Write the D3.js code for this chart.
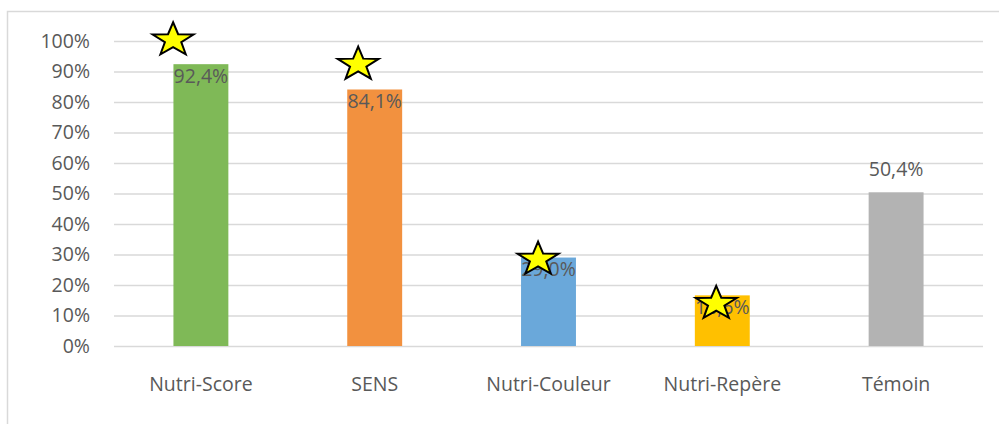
<!DOCTYPE html>
<html>
<head>
<meta charset="utf-8">
<script src="https://cdn.jsdelivr.net/npm/d3@7/dist/d3.min.js"></script>
<style>
body { margin: 0; overflow: hidden; background: #fff; }
text { font-family: "Open Sans", sans-serif; fill: #595959; }
</style>
</head>
<body>
<svg width="999" height="424"></svg>
<script>
// data
const categories = ['Nutri-Score', 'SENS', 'Nutri-Couleur', 'Nutri-Repère', 'Témoin'];
const values = [92.4, 84.1, 29.0, 16.6, 50.4];
const colors = ['#7fb957', '#f2913f', '#6aa8da', '#ffc000', '#b3b3b3'];
const labelInside = [true, true, true, true, false];
const yTicks = [0, 10, 20, 30, 40, 50, 60, 70, 80, 90, 100];
// star annotations: category, value at star centre, offset within band
const starCats = ['Nutri-Score', 'SENS', 'Nutri-Couleur', 'Nutri-Repère'];
const starValues = [100.8, 92.8, 28.9, 14.4];
const starShift = [-0.16, -0.095, -0.06, -0.035];

const svg = d3.select('svg');
const margin = { top: 41, left: 114, right: 16, bottom: 78 };
const width = 999, height = 424;
const innerW = width - margin.left - margin.right;
const innerH = height - margin.top - margin.bottom;
const fs = '19.5px';

// chart frame
svg.append('rect')
  .attr('x', 7.5).attr('y', 11.5)
  .attr('width', 1000).attr('height', 500)
  .attr('fill', 'none').attr('stroke', '#d9d9d9').attr('stroke-width', 1.5);

const g = svg.append('g').attr('transform', `translate(${margin.left},${margin.top})`);

const x = d3.scaleBand().domain(categories).range([0, innerW]).paddingInner(0.684).paddingOuter(0.342);
const y = d3.scaleLinear().domain([0, 100]).range([innerH, 0]);

const yAxis = g.append('g')
  .call(d3.axisLeft(y).tickValues(yTicks).tickSize(-innerW).tickPadding(24).tickFormat(d => d + '%'));
yAxis.select('.domain').remove();
yAxis.selectAll('.tick line').attr('stroke', '#d9d9d9').attr('stroke-width', 1.5);
yAxis.selectAll('.tick text').style('font-size', fs).attr('fill', '#595959');

const xAxis = g.append('g').attr('transform', `translate(0,${innerH})`)
  .call(d3.axisBottom(x).tickSize(0).tickPadding(31));
xAxis.select('.domain').remove();
xAxis.selectAll('.tick text').style('font-size', fs).attr('fill', '#595959');

const rows = categories.map((c, i) => ({ c, v: values[i], col: colors[i], inside: labelInside[i] }));

g.selectAll('rect.bar').data(rows).enter().append('rect')
  .attr('class', 'bar')
  .attr('x', d => x(d.c))
  .attr('y', d => y(d.v))
  .attr('width', x.bandwidth())
  .attr('height', d => innerH - y(d.v))
  .attr('fill', d => d.col);

g.selectAll('text.val').data(rows).enter().append('text')
  .attr('class', 'val')
  .attr('x', d => x(d.c) + x.bandwidth() / 2)
  .attr('y', d => d.inside ? y(d.v) + 12 : y(d.v) - 23)
  .attr('dy', '0.35em')
  .attr('text-anchor', 'middle')
  .style('font-size', fs)
  .attr('fill', '#404040')
  .text(d => d3.format('.1f')(d.v).replace('.', ',') + '%');

// stars sit on top of the labels
const starPath = (() => {
  const pts = [];
  for (let k = 0; k < 10; k++) {
    const r = k % 2 === 0 ? 1 : 0.4;
    const a = -Math.PI / 2 + k * Math.PI / 5;
    pts.push([r * Math.cos(a) * 21.5, r * Math.sin(a) * 17.7 + 1.4]);
  }
  return 'M' + pts.map(p => p.join(',')).join('L') + 'Z';
})();

const stars = starCats.map((c, i) => ({ c, v: starValues[i], s: starShift[i] }));

g.selectAll('path.star').data(stars).enter().append('path')
  .attr('class', 'star')
  .attr('transform', d => `translate(${x(d.c) + x.bandwidth() / 2 + d.s * x.step()},${y(d.v)})`)
  .attr('d', starPath)
  .attr('fill', '#ffff00')
  .attr('stroke', '#000')
  .attr('stroke-width', 2)
  .attr('stroke-linejoin', 'miter');
</script>
</body>
</html>
